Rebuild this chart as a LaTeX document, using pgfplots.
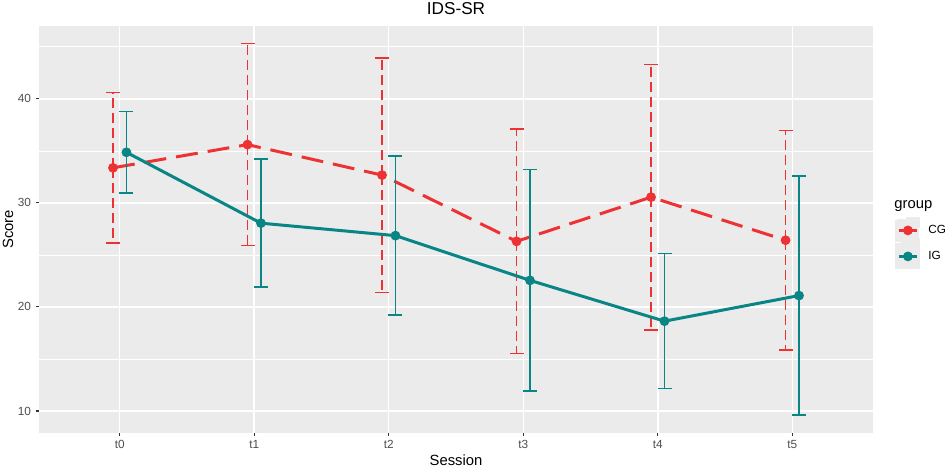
\documentclass[border=0pt]{standalone}
\usepackage{fontspec}
\setmainfont{Liberation Sans}
\usepackage{pgfplots}
\usepackage{pgfplotstable}
\pgfplotsset{compat=1.18}
\definecolor{cgred}{RGB}{238,50,52}
\definecolor{igteal}{RGB}{10,133,133}
\definecolor{panelbg}{RGB}{235,235,235}
\definecolor{ticktxt}{RGB}{77,77,77}
\definecolor{tickcol}{RGB}{51,51,51}
\pgfplotstableread{
x y e
-0.05 33.37 7.23
0.95 35.60 9.70
1.95 32.67 11.27
2.95 26.30 10.80
3.95 30.55 12.75
4.95 26.41 10.54
}\cgdata
\pgfplotstableread{
x y e
0.05 34.86 3.90
1.05 28.05 6.15
2.05 26.85 7.65
3.05 22.55 10.65
4.05 18.63 6.48
5.05 21.09 11.49
}\igdata
\begin{document}
\begin{tikzpicture}
\path[use as bounding box] (0,0) rectangle (472.5pt,233.5pt);
\begin{axis}[
  at={(19.5pt,17pt)}, anchor=south west,
  scale only axis, width=417pt, height=203.5pt,
  xmin=-0.6, xmax=5.6, ymin=7.88, ymax=47.0,
  clip mode=individual,
  axis background/.style={fill=panelbg},
  axis line style={draw=none},
  xtick={0,1,2,3,4,5}, xticklabels={t0,t1,t2,t3,t4,t5},
  ytick={10,20,30,40},
  minor ytick={15,25,35,45},
  grid=both,
  major grid style={white, line width=0.75pt},
  minor grid style={white, line width=0.35pt},
  tick align=outside, xtick pos=left, ytick pos=left,
  major tick length=1.6pt, minor tick length=0pt,
  tick style={tickcol, line width=0.55pt},
  ticklabel style={font=\fontsize{5.9}{7}\selectfont, text=ticktxt},
  xticklabel style={anchor=north, inner sep=0pt, yshift=-1.8pt},
  yticklabel style={anchor=east, inner sep=0pt, xshift=-2.2pt},
  /pgf/number format/assume math mode=true,
  xlabel={Session},
  xlabel style={at={(axis description cs:0.5,-0.0663)}, anchor=center, font=\fontsize{7.4}{9}\selectfont},
  ylabel={Score},
  ylabel style={at={(axis description cs:-0.0372,0.5)}, anchor=center, font=\fontsize{7.4}{9}\selectfont},
  legend style={at={(axis description cs:1.0264,0.5307)}, anchor=north west, draw=none, fill=none,
    inner sep=0pt, row sep=0pt, nodes={inner sep=0pt}, font=\fontsize{5.9}{7}\selectfont,
    cells={anchor=west}, /tikz/every odd column/.append style={column sep=4pt}},
  legend image code/.code={
    \fill[panelbg] (0pt,-5.75pt) rectangle (11pt,5.75pt);
    \draw[#1, solid, mark=none, line width=1.5pt] (1pt,0pt) -- (10pt,0pt);
    \draw[#1, solid] plot coordinates {(5.5pt,0pt)};
  },
]
\addplot[cgred, line width=1.5pt, dash pattern=on 11pt off 5pt,
  mark=*, mark size=1.65pt, mark options={solid, fill=cgred, draw=cgred},
  error bars/.cd, y dir=both, y explicit,
  error bar style={line width=0.75pt, dash pattern=on 5pt off 2.5pt},
  error mark options={rotate=90, solid, line width=0.75pt, mark size=3.5pt, cgred}]
  table[x=x, y=y, y error=e] {\cgdata};
\addlegendentry{CG}
\addplot[igteal, line width=1.5pt, solid,
  mark=*, mark size=1.65pt, mark options={solid, fill=igteal, draw=igteal},
  error bars/.cd, y dir=both, y explicit,
  error bar style={line width=0.75pt, solid},
  error mark options={rotate=90, solid, line width=0.75pt, mark size=3.5pt, igteal}]
  table[x=x, y=y, y error=e] {\igdata};
\addlegendentry{IG}
\node[anchor=base west, font=\fontsize{7.4}{9}\selectfont, inner sep=0pt] at (axis description cs:1.0252,0.5528) {group};
\node[anchor=center, font=\fontsize{8.6}{10}\selectfont, inner sep=0pt] at (axis description cs:0.5,1.0418) {IDS-SR};
\end{axis}
\end{tikzpicture}
\end{document}
